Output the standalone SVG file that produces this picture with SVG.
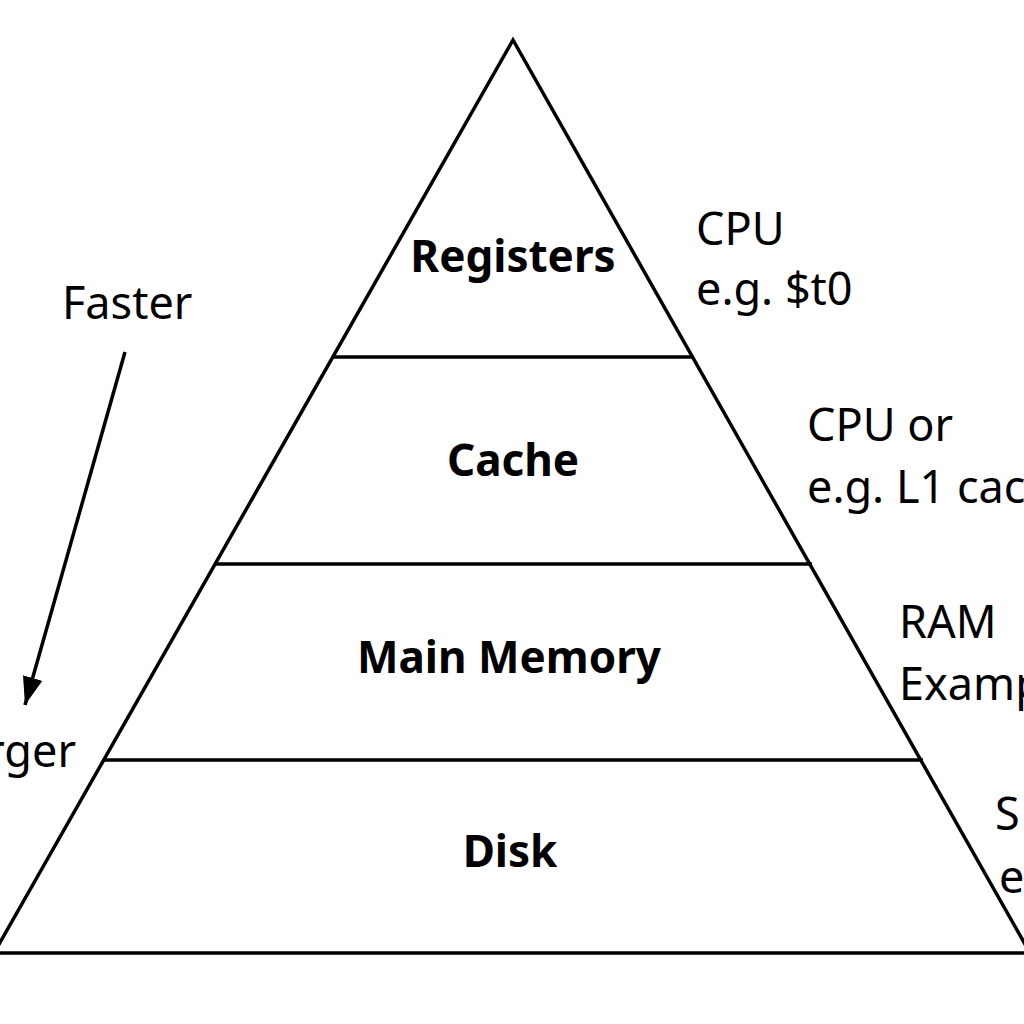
<svg xmlns="http://www.w3.org/2000/svg" width="1024" height="1024" viewBox="0 0 1024 1024">
<defs>
<style>
.ln{stroke:#000;stroke-width:3.5;fill:none}
.lvl{font-family:"Noto Sans","Open Sans",sans-serif;font-weight:bold;font-size:44px;text-anchor:middle;fill:#000}
.note{font-family:"Noto Sans","Open Sans",sans-serif;font-size:45px;fill:#000}
</style>
<marker id="ah" viewBox="0 0 28 20" refX="28" refY="10" markerWidth="28" markerHeight="20" markerUnits="userSpaceOnUse" orient="auto">
<path d="M0,0 L28,10 L0,20 z" fill="#000"/>
</marker>
</defs>
<rect width="1024" height="1024" fill="#fff"/>
<g id="pyramid">
<polyline class="ln" points="-6,953 513,40 1030,953"/>
<line class="ln" x1="-2" y1="953" x2="1026" y2="953"/>
</g>
<g id="registers">
<line class="ln" x1="332" y1="357" x2="694" y2="357"/>
<text class="lvl" x="513" y="272">Registers</text>
</g>
<g id="cache">
<line class="ln" x1="214" y1="564" x2="812" y2="564"/>
<text class="lvl" x="513" y="476">Cache</text>
</g>
<g id="main-memory">
<line class="ln" x1="103" y1="760" x2="923" y2="760"/>
<text class="lvl" x="509" y="673">Main Memory</text>
</g>
<g id="disk">
<text class="lvl" x="510" y="867">Disk</text>
</g>
<g id="notes">
<text class="note" x="62" y="319">Faster</text>
<text class="note" x="76" y="767" text-anchor="end">rger</text>
<text class="note" x="696" y="245">CPU</text>
<text class="note" x="696" y="305">e.g. $t0</text>
<text class="note" x="807" y="441">CPU or</text>
<text class="note" x="807" y="503">e.g. L1 cac</text>
<text class="note" x="899" y="638">RAM</text>
<text class="note" x="899" y="700">Examp</text>
<text class="note" x="995" y="830">S</text>
<text class="note" x="999" y="893">e</text>
</g>
<g id="connectors">
<line class="ln" x1="125" y1="352" x2="25" y2="705" marker-end="url(#ah)"/>
</g>
</svg>
